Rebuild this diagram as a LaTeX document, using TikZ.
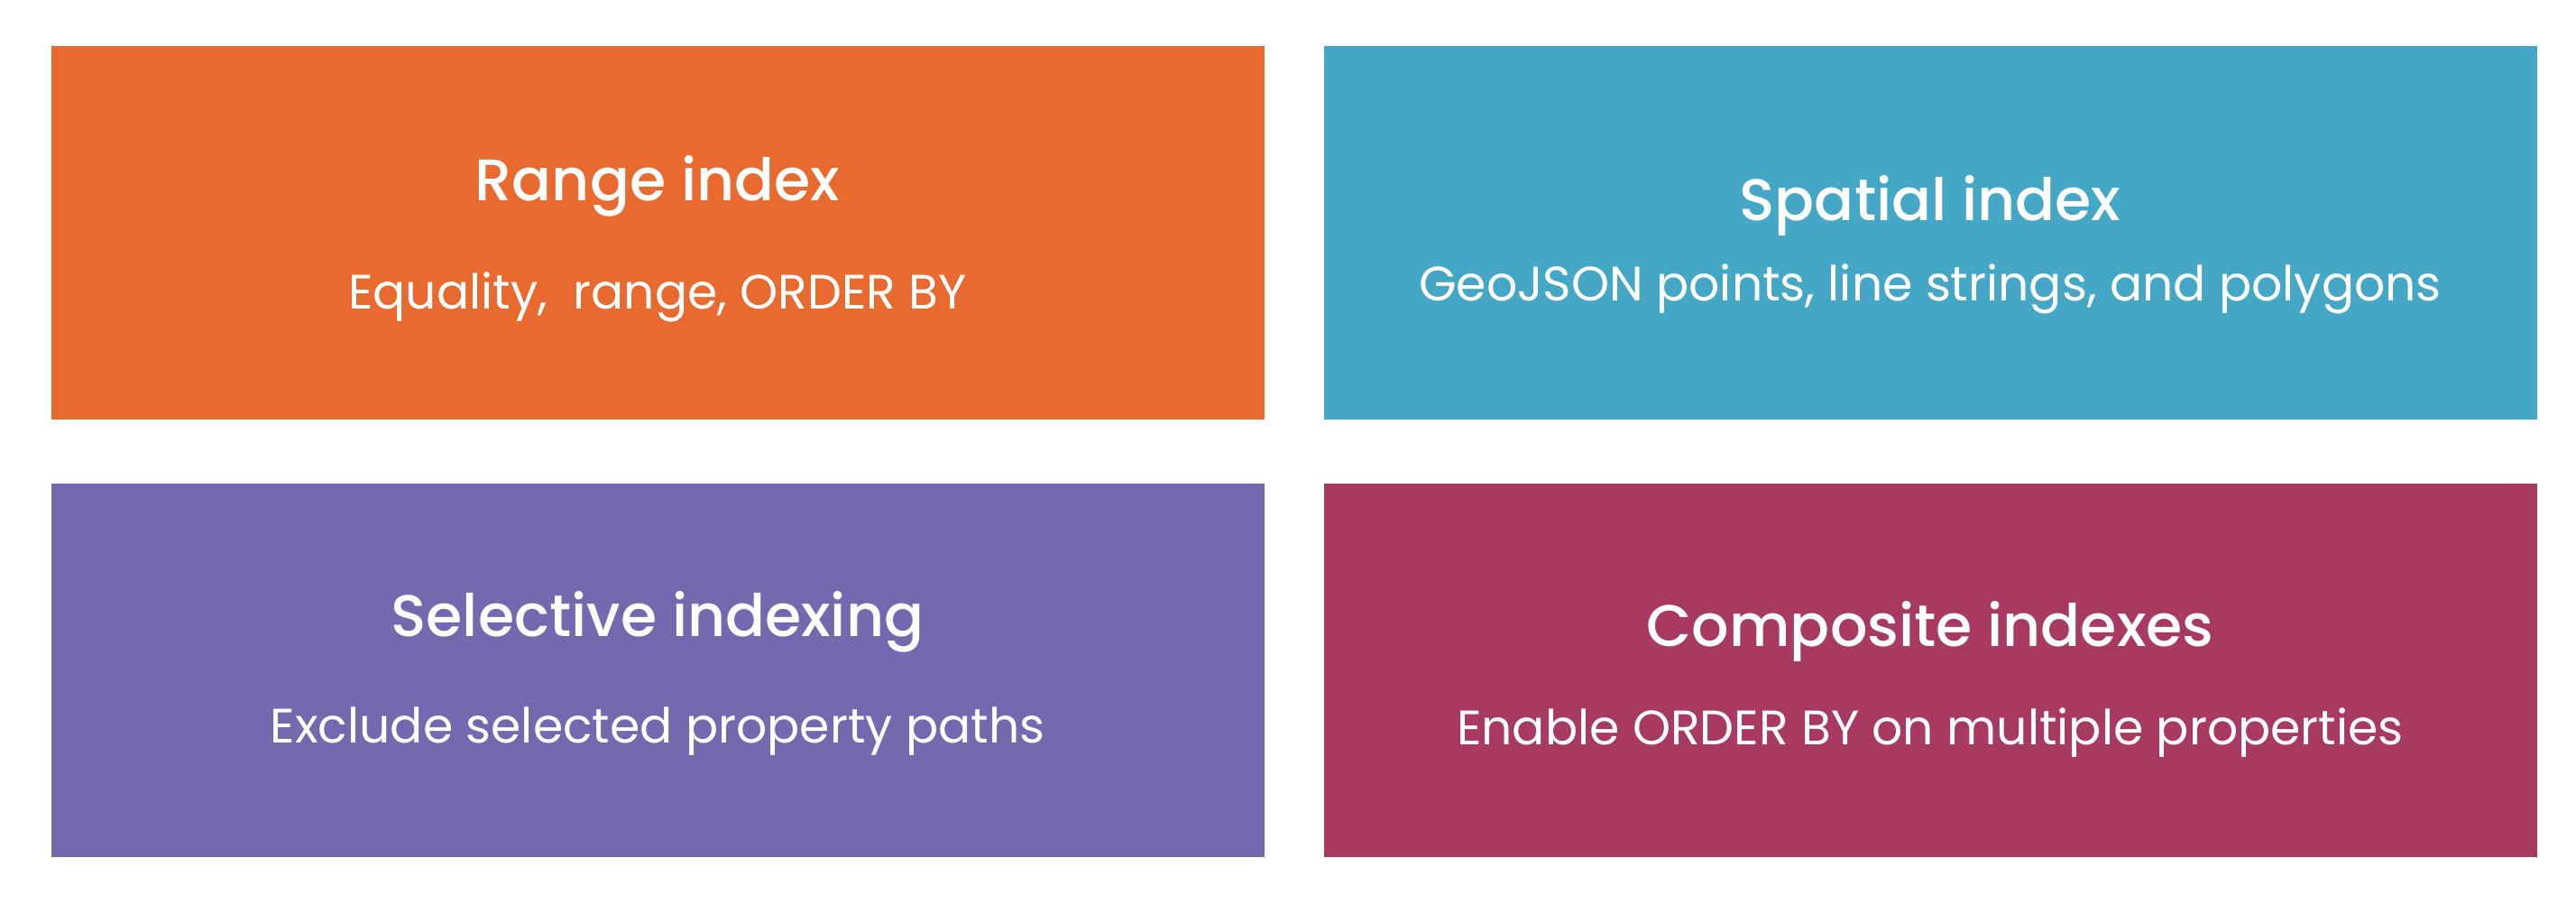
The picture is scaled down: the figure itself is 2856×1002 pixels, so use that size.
\documentclass[tikz,border=0pt]{standalone}
\usepackage{fontspec}
\setmainfont{Poppins}
\newfontfamily\headfont{Poppins}[UprightFont=* Medium]
\definecolor{rangeC}{HTML}{E96A2E}
\definecolor{spatialC}{HTML}{44A7C6}
\definecolor{selectC}{HTML}{7468AF}
\definecolor{compositeC}{HTML}{A83A62}
\begin{document}
\begin{tikzpicture}[x=0.5pt,y=-0.5pt,
  card/.style={draw=none,inner sep=0pt,minimum width=672.5pt,minimum height=207pt},
  head/.style={text=white,anchor=base,inner sep=0pt,font=\headfont\fontsize{32.5}{32.5}\selectfont},
  sub/.style={text=white,anchor=base,inner sep=0pt,font=\fontsize{26.8}{26.8}\selectfont}]
  \useasboundingbox[fill=white] (0,0) rectangle (2856,1002);
  % cards
  \node[card,fill=rangeC]     (range)     at (729,258)  {};
  \node[card,fill=spatialC]   (spatial)   at (2140,258) {};
  \node[card,fill=selectC]    (select)    at (729,743)  {};
  \node[card,fill=compositeC] (composite) at (2140,743) {};
  % titles
  \node[head] (rangeT)     at (729,222)  {Range index};
  \node[head] (spatialT)   at (2140,244) {Spatial index};
  \node[head] (selectT)    at (729,705)  {Selective indexing};
  \node[head] (compositeT) at (2140,716) {Composite indexes};
  % descriptions
  \node[sub] (rangeS)     at (729,342)  {Equality,\ \ range, ORDER BY};
  \node[sub] (spatialS)   at (2140,333) {GeoJSON points, line strings, and polygons};
  \node[sub] (selectS)    at (729,823)  {Exclude selected property paths};
  \node[sub] (compositeS) at (2140,825) {Enable ORDER BY on multiple properties};
\end{tikzpicture}
\end{document}
